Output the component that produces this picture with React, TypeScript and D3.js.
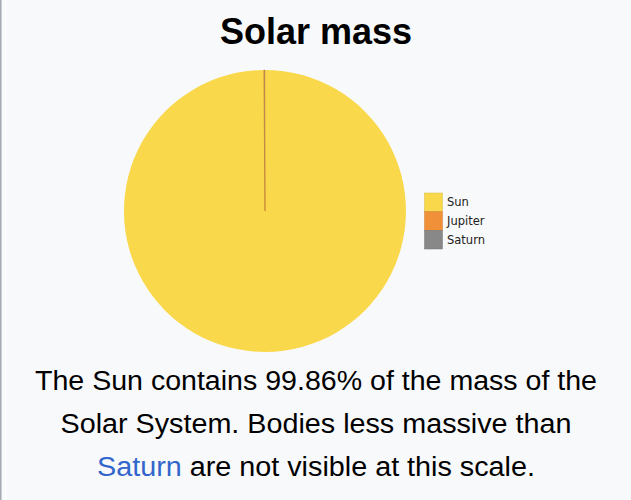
import React from "react";
import * as d3 from "d3";

const bodies = ["Sun", "Jupiter", "Saturn"];
const masses = [1989000, 1898, 568]; // ×10^24 kg
const colors = ["#f9d84b", "#f0913a", "#888888"];
const title = "Solar mass";
const captionLines = [
  [{ t: "The Sun contains 99.86% of the mass of the", link: false }],
  [{ t: "Solar System. Bodies less massive than", link: false }],
  [
    { t: "Saturn", link: true },
    { t: " are not visible at this scale.", link: false },
  ],
];
const captionWidths = [562, 511, 438];

const W = 631;
const H = 500;

export default function App() {
  const cx = 265;
  const cy = 211;
  const r = 141;
  const data = bodies.map((b, i) => ({ name: b, value: masses[i], color: colors[i] }));
  const pie = d3
    .pie<any>()
    .sort(null)
    .value((d: any) => d.value);
  const arcs = pie(data);
  const arcGen = d3.arc<any>().innerRadius(0).outerRadius(r);
  const legendY = d3.scaleBand<string>().domain(bodies).range([193, 249]);

  return (
    <div style={{ position: "fixed", left: 0, top: 0 }}>
      <svg width={W} height={H} style={{ display: "block" }}>
        <rect x={0} y={0} width={W} height={H} fill="#f8f9fa" />
        <rect x={0} y={0} width={1.5} height={H} fill="#a2a9b1" />
        <rect x={5} y={0} width={1} height={H} fill="#ffffff" />
        <text
          x={316}
          y={44}
          textAnchor="middle"
          fontFamily="'Liberation Sans', Arial, sans-serif"
          fontWeight="bold"
          fontSize={36}
          fill="#000"
        >
          {title}
        </text>
        <g transform={`translate(${cx},${cy})`}>
          {arcs.map((a, i) => (
            <path
              key={i}
              d={arcGen(a) as string}
              fill={a.data.color}
              stroke={i === 1 ? "#b8702a" : "none"}
              strokeWidth={i === 1 ? 0.6 : 0}
            />
          ))}
        </g>
        <g>
          {bodies.map((b, i) => (
            <g key={b}>
              <rect
                x={424.5}
                y={legendY(b)!}
                width={18}
                height={legendY.bandwidth()}
                fill={colors[i]}
                stroke={d3.color(colors[i])!.darker(0.4).toString()}
                strokeWidth={0.5}
              />
              <text
                x={447}
                y={legendY(b)! + legendY.bandwidth() / 2 + 4}
                fontFamily="'DejaVu Sans', sans-serif"
                fontSize={11.5}
                fill="#222"
              >
                {b}
              </text>
            </g>
          ))}
        </g>
        {captionLines.map((line, li) => (
          <text
            key={li}
            x={316}
            y={390 + li * 43}
            textAnchor="middle"
            fontFamily="'Liberation Sans', Arial, sans-serif"
            fontSize={27}
            textLength={captionWidths[li]}
            lengthAdjust="spacingAndGlyphs"
            fill="#000"
          >
            {line.map((s, si) => (
              <tspan key={si} fill={s.link ? "#3366cc" : "#000"}>
                {s.t}
              </tspan>
            ))}
          </text>
        ))}
      </svg>
    </div>
  );
}
